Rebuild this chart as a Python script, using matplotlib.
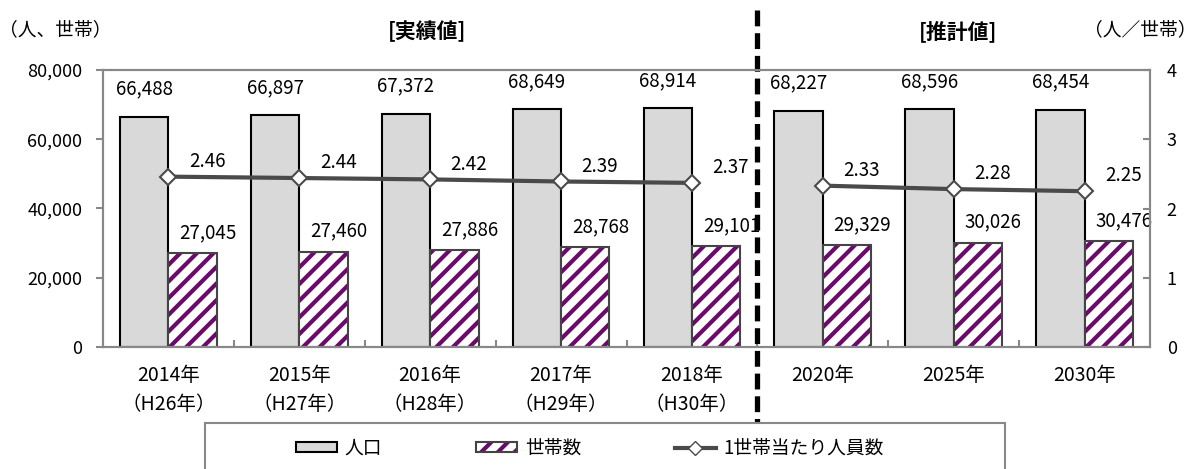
import numpy as np
import matplotlib.pyplot as plt
import matplotlib.transforms as mtransforms
from matplotlib.patches import Patch, Rectangle
from matplotlib.lines import Line2D

plt.rcParams['font.family'] = ['Noto Sans CJK JP', 'DejaVu Sans']
plt.rcParams['hatch.linewidth'] = 3

# data
categories = ['2014年\n（H26年）', '2015年\n（H27年）', '2016年\n（H28年）', '2017年\n（H29年）',
              '2018年\n（H30年）', '2020年', '2025年', '2030年']
population = [66488, 66897, 67372, 68649, 68914, 68227, 68596, 68454]
households = [27045, 27460, 27886, 28768, 29101, 29329, 30026, 30476]
per_household = [2.46, 2.44, 2.42, 2.39, 2.37, 2.33, 2.28, 2.25]
n_actual = 5  # 実績値 の件数

gray = '#d9d9d9'
purple = '#6a0a6a'
line_col = '#4a4a4a'
axis_col = '#888888'

fig = plt.figure(figsize=(11.98, 4.69), dpi=100)
ax = fig.add_axes([103/1198, 1-347/469, 1047/1198, 277/469])
ax2 = ax.twinx()

x = np.arange(len(categories))
w = 0.37

ax.bar(x - w/2, population, w, color=gray, edgecolor='black', linewidth=1.5, zorder=2)
ax.bar(x + w/2, households, w, color='white', edgecolor=purple, hatch='//', linewidth=0, zorder=2)
ax.bar(x + w/2, households, w, fill=False, edgecolor='#444444', linewidth=1.5, zorder=3)

ax.set_xlim(-0.5, len(categories) - 0.5)
ax.set_ylim(0, 80000)
ax.set_yticks(np.arange(0, 80001, 20000))
ax.set_yticklabels([f'{v:,}' for v in range(0, 80001, 20000)], fontsize=13)
ax.set_xticks(x)
ax.set_xticklabels(categories, fontsize=14, linespacing=1.5)
ax.set_xticks(np.arange(0.5, len(categories) - 1, 1), minor=True)
ax.tick_params(axis='x', which='major', length=0, pad=13)
ax.tick_params(axis='x', which='minor', direction='in', length=5, color=axis_col, width=1.5)
ax.tick_params(axis='y', direction='out', length=5, color=axis_col, width=1.5, pad=10)

for s in list(ax.spines.values()) + list(ax2.spines.values()):
    s.set_color(axis_col)
    s.set_linewidth(1.5)

# ratio line (two segments)
ax2.plot(x[:n_actual], per_household[:n_actual], color=line_col, lw=3, marker='D',
         ms=8, mfc='white', mec=line_col, mew=1.5, zorder=4)
ax2.plot(x[n_actual:], per_household[n_actual:], color=line_col, lw=3, marker='D',
         ms=8, mfc='white', mec=line_col, mew=1.5, zorder=4)
ax2.set_ylim(0, 4)
ax2.set_yticks(range(0, 5))
ax2.set_yticklabels([str(v) for v in range(0, 5)], fontsize=13)
ax2.tick_params(axis='y', direction='in', length=5, color=axis_col, width=1.5, pad=12)

# labels
for i in range(len(categories)):
    ax.annotate(f'{population[i]:,}', (x[i] - w/2, population[i]), xytext=(0, 20),
                textcoords='offset points', ha='center', va='center', fontsize=13.5, zorder=5)
    ax.annotate(f'{households[i]:,}', (x[i] + w/2, households[i]), xytext=(11, 15),
                textcoords='offset points', ha='center', va='center', fontsize=13.5,
                zorder=5)
    ax2.annotate(f'{per_household[i]:.2f}', (x[i], per_household[i]), xytext=(28, 11),
                 textcoords='offset points', ha='center', va='center', fontsize=13.5, zorder=5)

# dashed divider
trans = mtransforms.blended_transform_factory(ax.transData, fig.transFigure)
ax.add_line(Line2D([n_actual - 0.5, n_actual - 0.5], [1 - 10/469, 1 - 465/469], transform=trans,
                   color='black', lw=3.8, dashes=(3, 1.3), clip_on=False, zorder=6))

# header texts
fig.text(55/1198, 1 - 30/469, '（人、世帯）', ha='center', va='center', fontsize=13.5)
fig.text(427/1198, 1 - 31/469, '[実績値]', ha='center', va='center', fontsize=15, fontweight='bold')
fig.text(958/1198, 1 - 31/469, '[推計値]', ha='center', va='center', fontsize=15, fontweight='bold')
fig.text(1140/1198, 1 - 30/469, '（人／世帯）', ha='center', va='center', fontsize=13.5)

# legend
fig.add_artist(Rectangle((205/1198, 1 - 490/469), 800/1198, 67/469, transform=fig.transFigure,
                         facecolor='white', edgecolor=axis_col, linewidth=1.5, zorder=9))
handles = [
    Patch(facecolor=gray, edgecolor='black', linewidth=1.5),
    (Patch(facecolor='white', edgecolor=purple, hatch='//', linewidth=0),
     Patch(fill=False, edgecolor='#444444', linewidth=1.5)),
    Line2D([], [], color=line_col, lw=3, marker='D', ms=7, mfc='white', mec=line_col),
]
leg = fig.legend(handles, ['人口', '世帯数', '1世帯当たり人員数'], ncol=3, loc='center',
                 bbox_to_anchor=(590/1198, 1 - 448/469), fontsize=13.5, frameon=False,
                 handlelength=2.2, handleheight=0.5, handletextpad=0.4, columnspacing=5)
leg.set_zorder(10)

fig.savefig('out.png', dpi=100)
